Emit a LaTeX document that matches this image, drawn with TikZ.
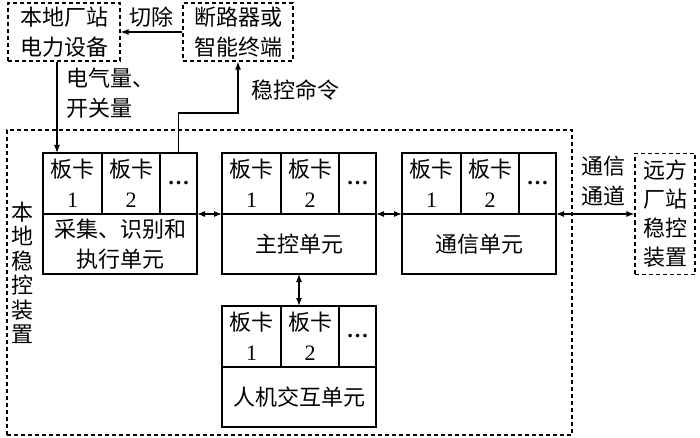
\documentclass[tikz,border=0pt]{standalone}
\usepackage{fontspec}
\setmainfont{Liberation Serif}
\newfontfamily\cjk{Noto Sans CJK SC}
\usepackage{tikz}
\usetikzlibrary{positioning,arrows.meta}
\newcommand\card[1]{板卡\\{\rmfamily #1}}
\newcommand\more{{\rmfamily\bfseries …}}

\begin{document}
\begin{tikzpicture}[x=1pt,y=-1pt,
    every node/.style={font=\cjk\fontsize{22}{30}\selectfont},
    unit/.style={draw,line width=1.2pt,minimum width=154pt,minimum height=60pt,
                 inner sep=0pt,outer sep=0pt,align=center},
    cell/.style={draw,line width=1.2pt,minimum height=61pt,
                 inner sep=0pt,outer sep=0pt,align=center},
    dbox/.style={draw,line width=1.2pt,dash pattern=on 4pt off 3pt,
                 inner sep=0pt,align=center},
    arr/.style={-{Latex[length=8pt,width=6pt]},line width=1.2pt},
    darr/.style={{Latex[length=8pt,width=6pt]}-{Latex[length=8pt,width=6pt]},line width=1.2pt}]
  \useasboundingbox (0,0) rectangle (700,438);
  % outer devices
  \node[dbox,minimum width=112pt,minimum height=58pt] (lcl) at (64,32) {本地厂站\\电力设备};
  \node[dbox,minimum width=110pt,minimum height=58pt] (brk) at (238,32) {断路器或\\智能终端};
  \node[dbox,minimum width=60pt,minimum height=121pt,font=\cjk\fontsize{22}{29}\selectfont]
    (rmt) at (665,214) {远方\\厂站\\稳控\\装置};
  % local device frame
  \node[dbox,minimum width=565pt,minimum height=305pt] (dev) at (289.5,282.5) {};
  \node[align=center,font=\cjk\fontsize{22}{24.5}\selectfont] (devlbl) at (23,273)
    {本\\地\\稳\\控\\装\\置};
  % acquisition unit
  \node[unit] (acq) at (120,244) {采集、识别和\\执行单元};
  \node[cell,minimum width=59pt,anchor=south west] (acq1) at (acq.north west) {\card{1}};
  \node[cell,minimum width=58pt,right=0pt of acq1] (acq2) {\card{2}};
  \node[cell,minimum width=37pt,right=0pt of acq2] (acq3) {\more};
  % main control unit
  \node[unit] (mcu) at (299,244) {主控单元};
  \node[cell,minimum width=59pt,anchor=south west] (mcu1) at (mcu.north west) {\card{1}};
  \node[cell,minimum width=58pt,right=0pt of mcu1] (mcu2) {\card{2}};
  \node[cell,minimum width=37pt,right=0pt of mcu2] (mcu3) {\more};
  % communication unit
  \node[unit] (com) at (479,244) {通信单元};
  \node[cell,minimum width=59pt,anchor=south west] (com1) at (com.north west) {\card{1}};
  \node[cell,minimum width=58pt,right=0pt of com1] (com2) {\card{2}};
  \node[cell,minimum width=37pt,right=0pt of com2] (com3) {\more};
  % HMI unit
  \node[unit] (hmi) at (299,397) {人机交互单元};
  \node[cell,minimum width=59pt,anchor=south west] (hmi1) at (hmi.north west) {\card{1}};
  \node[cell,minimum width=58pt,right=0pt of hmi1] (hmi2) {\card{2}};
  \node[cell,minimum width=37pt,right=0pt of hmi2] (hmi3) {\more};
  % connections
  \draw[arr] (brk.west) -- node[above=1pt] {切除} (lcl.east);
  \draw[arr] ([xshift=-7pt]lcl.south) -- ([xshift=-7pt]lcl.south |- acq1.north);
  \node[align=left,anchor=west] (meas) at (63,93) {电气量、\\开关量};
  \coordinate (cmd) at (238,113);
  \draw[arr] (acq3.north) |- (cmd) -- (brk.south);
  \node (cmdlbl) at (295,90) {稳控命令};
  \draw[darr] (acq.north east) -- (mcu.north west);
  \draw[darr] (mcu.north east) -- (com.north west);
  \draw[darr] (mcu.south) -- (hmi2.north -| mcu.south);
  \draw[darr] (com.north east) -- (rmt.west);
  \node[align=center] (chlbl) at (603,181) {通信\\通道};
\end{tikzpicture}
\end{document}
